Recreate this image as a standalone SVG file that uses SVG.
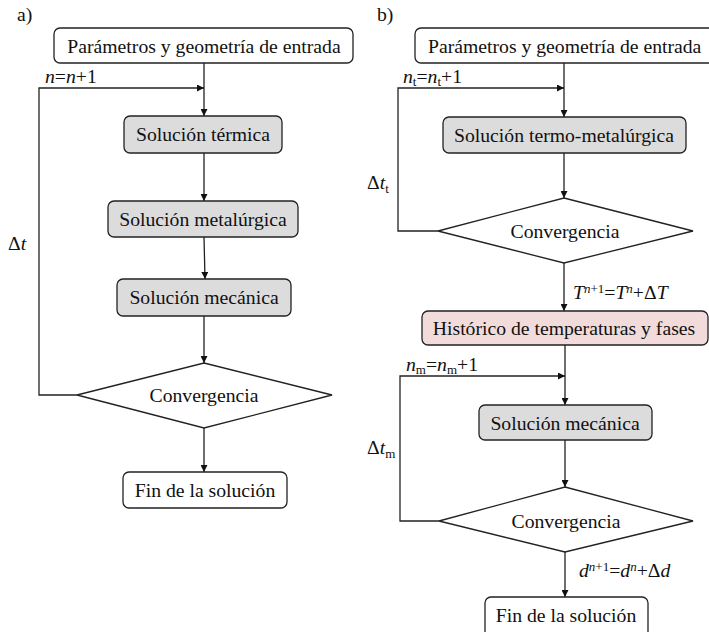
<svg xmlns="http://www.w3.org/2000/svg" width="709" height="632" viewBox="0 0 709 632">
<style>
text{font-family:'Liberation Serif','Times New Roman',serif;font-size:19.7px;fill:#111}
.lbl{text-anchor:middle}
.box{fill:#fff;stroke:#222;stroke-width:1.3}
.gray{fill:#dcdcdc;stroke:#222;stroke-width:1.3}
.pink{fill:#f2dcdb;stroke:#222;stroke-width:1.3}
.dia{fill:#fff;stroke:#222;stroke-width:1.3}
.ln{fill:none;stroke:#222;stroke-width:1.3}
.it{font-style:italic}
.sub{font-size:13px}
</style>
<defs>
<marker id="ar" viewBox="0 0 10 10" refX="10" refY="5" markerWidth="7" markerHeight="7" markerUnits="userSpaceOnUse" orient="auto">
<path d="M0,0 L10,5 L0,10 z" fill="#111"/>
</marker>
</defs>
<rect width="709" height="632" fill="#fff"/>
<text x="17" y="21">a)</text>
<text x="377" y="21">b)</text>

<g id="connectors">
<line class="ln" x1="204" y1="63" x2="204" y2="116" marker-end="url(#ar)"/>
<polyline class="ln" points="77,395 39,395 39,88 204,88" marker-end="url(#ar)"/>
<line class="ln" x1="204" y1="153" x2="204" y2="201" marker-end="url(#ar)"/>
<line class="ln" x1="204" y1="237" x2="205" y2="279" marker-end="url(#ar)"/>
<line class="ln" x1="204" y1="316" x2="204" y2="363" marker-end="url(#ar)"/>
<line class="ln" x1="204" y1="428" x2="204" y2="472" marker-end="url(#ar)"/>

<line class="ln" x1="564" y1="63" x2="564" y2="117" marker-end="url(#ar)"/>
<polyline class="ln" points="438,231 398,231 398,88 564,88" marker-end="url(#ar)"/>
<line class="ln" x1="564" y1="153" x2="564" y2="198" marker-end="url(#ar)"/>
<line class="ln" x1="564" y1="263" x2="564" y2="311" marker-end="url(#ar)"/>
<line class="ln" x1="565" y1="345" x2="565" y2="405" marker-end="url(#ar)"/>
<polyline class="ln" points="439,521 400,521 400,376 565,376" marker-end="url(#ar)"/>
<line class="ln" x1="565" y1="440" x2="565" y2="487" marker-end="url(#ar)"/>
<line class="ln" x1="565" y1="552" x2="565" y2="597" marker-end="url(#ar)"/>
</g>

<g id="a-start"><rect class="box" x="54" y="28" width="299" height="35" rx="6"/><text class="lbl" x="204" y="46" dy="6.5">Parámetros y geometría de entrada</text></g>
<g id="a-termica"><rect class="gray" x="124" y="116" width="158" height="37" rx="6"/><text class="lbl" x="203" y="134" dy="6.5">Solución térmica</text></g>
<g id="a-metal"><rect class="gray" x="108" y="201" width="190" height="36" rx="6"/><text class="lbl" x="203" y="219" dy="6.5">Solución metalúrgica</text></g>
<g id="a-mec"><rect class="gray" x="117" y="279" width="174" height="37" rx="6"/><text class="lbl" x="204" y="297" dy="6.5">Solución mecánica</text></g>
<g id="a-conv"><polygon class="dia" points="204,363 332,395 204,428 77,395"/><text class="lbl" x="204" y="395" dy="6.5">Convergencia</text></g>
<g id="a-fin"><rect class="box" x="123" y="472" width="164" height="36" rx="6"/><text class="lbl" x="205" y="490" dy="6.5">Fin de la solución</text></g>
<g id="a-labels">
<text x="45" y="83"><tspan class="it">n</tspan>=<tspan class="it">n</tspan>+1</text>
<text x="8" y="250">Δ<tspan class="it">t</tspan></text>
</g>

<g id="b-start"><rect class="box" x="415" y="28" width="310" height="35" rx="6"/><text x="428" y="46" dy="6.5">Parámetros y geometría de entrada</text></g>
<g id="b-termo"><rect class="gray" x="443" y="117" width="243" height="36" rx="6"/><text class="lbl" x="564" y="135" dy="6.5">Solución termo-metalúrgica</text></g>
<g id="b-conv1"><polygon class="dia" points="564,198 693,231 564,263 438,231"/><text class="lbl" x="565" y="231" dy="6.5">Convergencia</text></g>
<g id="b-hist"><rect class="pink" x="422" y="311" width="286" height="34" rx="6"/><text class="lbl" x="564" y="328" dy="6.5">Histórico de temperaturas y fases</text></g>
<g id="b-mec"><rect class="gray" x="479" y="405" width="173" height="35" rx="6"/><text class="lbl" x="565" y="423" dy="6.5">Solución mecánica</text></g>
<g id="b-conv2"><polygon class="dia" points="565,487 693,521 565,552 439,521"/><text class="lbl" x="566" y="521" dy="6.5">Convergencia</text></g>
<g id="b-fin"><rect class="box" x="485" y="597" width="163" height="40" rx="6"/><text class="lbl" x="566" y="615" dy="6.5">Fin de la solución</text></g>
<g id="b-labels">
<text x="403" y="83"><tspan class="it">n</tspan><tspan class="sub" dy="3">t</tspan><tspan dy="-3">=</tspan><tspan class="it">n</tspan><tspan class="sub" dy="3">t</tspan><tspan dy="-3">+1</tspan></text>
<text x="367" y="189">Δ<tspan class="it">t</tspan><tspan class="sub" dy="4">t</tspan></text>
<text x="573" y="299"><tspan class="it">T</tspan><tspan class="sub it" dy="-6">n</tspan><tspan class="sub">+1</tspan><tspan dy="6">=</tspan><tspan class="it">T</tspan><tspan class="sub it" dy="-6">n</tspan><tspan dy="6">+Δ</tspan><tspan class="it">T</tspan></text>
<text x="406" y="371"><tspan class="it">n</tspan><tspan class="sub" dy="3">m</tspan><tspan dy="-3">=</tspan><tspan class="it">n</tspan><tspan class="sub" dy="3">m</tspan><tspan dy="-3">+1</tspan></text>
<text x="367" y="454">Δ<tspan class="it">t</tspan><tspan class="sub" dy="4">m</tspan></text>
<text x="579" y="577"><tspan class="it">d</tspan><tspan class="sub it" dy="-6">n</tspan><tspan class="sub">+1</tspan><tspan dy="6">=</tspan><tspan class="it">d</tspan><tspan class="sub it" dy="-6">n</tspan><tspan dy="6">+Δ</tspan><tspan class="it">d</tspan></text>
</g>
</svg>
